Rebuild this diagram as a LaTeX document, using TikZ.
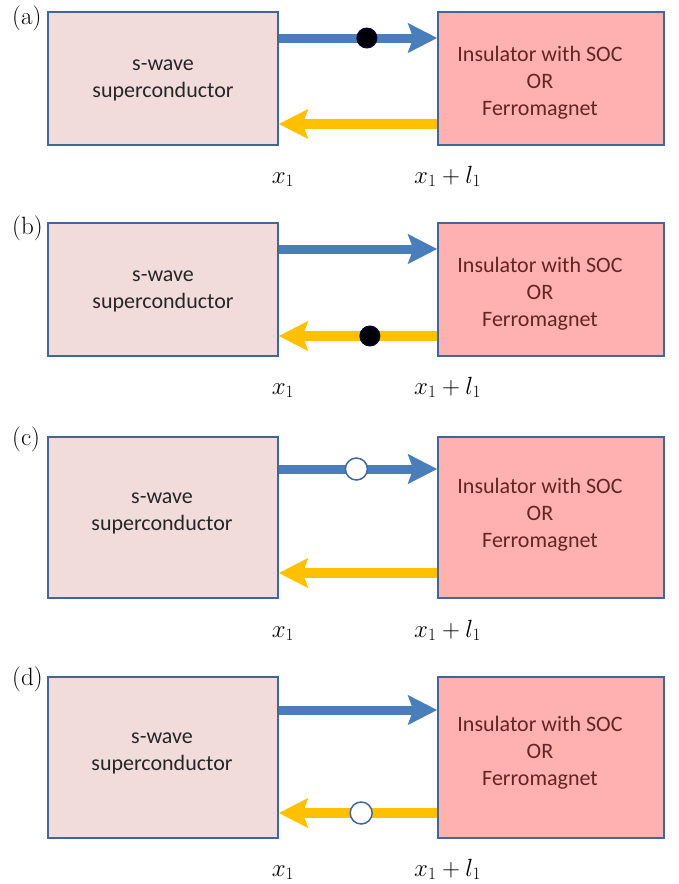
\documentclass[tikz,border=0pt]{standalone}
\usepackage{fontspec}
\newfontfamily\cali{Carlito}
\usetikzlibrary{arrows.meta}
\definecolor{lfill}{HTML}{F2DCDB}
\definecolor{rfill}{HTML}{FFB0B0}
\definecolor{bord}{HTML}{41679A}
\definecolor{barr}{HTML}{4A7EBB}
\definecolor{yarr}{HTML}{FFC000}
\definecolor{rtxt}{HTML}{632523}
\begin{document}
\begin{tikzpicture}[x=1pt,y=-1pt,
  lbox/.style={draw=bord,line width=1.5pt,fill=lfill,minimum width=230pt,inner sep=0pt},
  rbox/.style={draw=bord,line width=1.5pt,fill=rfill,minimum width=226pt,inner sep=0pt},
  ltext/.style={align=center,font=\cali\fontsize{22}{27}\selectfont,text=black!85},
  rtext/.style={align=center,font=\cali\fontsize{22}{27}\selectfont,text=rtxt},
  barrow/.style={draw=barr,line width=9pt,-{Stealth[length=29pt,width=29pt,inset=5pt]}},
  yarrow/.style={draw=yarr,line width=9.5pt,-{Stealth[length=29pt,width=29pt,inset=5pt]}},
  fdot/.style={circle,fill=black,draw=black!70!blue,line width=1pt,minimum size=20pt,inner sep=0pt},
  odot/.style={circle,fill=white,draw=bord,line width=1.5pt,minimum size=22pt,inner sep=0pt},
  plabel/.style={anchor=base west,inner sep=0pt,font=\fontsize{25}{30}\selectfont},
  mlabel/.style={inner sep=0pt,font=\fontsize{25}{30}\selectfont}
]
\useasboundingbox (0,0) rectangle (678,884);

% ---------- (a)
\node[lbox,minimum height=133pt] (L1) at (163,78.5) {};
\node[rbox,minimum height=133pt] (R1) at (551,78.5) {};
\node[ltext] (LT1) at (163,80) {s-wave\\superconductor};
\node[rtext] (RT1) at (540,83) {Insulator with SOC\\OR\\Ferromagnet};
\draw[barrow] ([yshift=40.5pt]L1.east) -- node[fdot,pos=0.556] (D1) {} ([yshift=40.5pt]R1.west);
\draw[yarrow] ([yshift=-45.5pt]R1.west) -- ([yshift=-45.5pt]L1.east);
\node[plabel] (PA) at (12,24) {(a)};
\node[mlabel,anchor=base] (XA) at (283,183) {$x_1$};
\node[mlabel,anchor=base west] (XLA) at (414,183) {$x_1+l_1$};

% ---------- (b)
\node[lbox,minimum height=133pt] (L2) at (163,289.5) {};
\node[rbox,minimum height=133pt] (R2) at (551,289.5) {};
\node[ltext] (LT2) at (163,291) {s-wave\\superconductor};
\node[rtext] (RT2) at (540,294) {Insulator with SOC\\OR\\Ferromagnet};
\draw[barrow] ([yshift=40.5pt]L2.east) -- ([yshift=40.5pt]R2.west);
\draw[yarrow] ([yshift=-46.5pt]R2.west) -- node[fdot,pos=0.425] (D2) {} ([yshift=-46.5pt]L2.east);
\node[plabel] (PB) at (12,234) {(b)};
\node[mlabel,anchor=base] (XB) at (283,394) {$x_1$};
\node[mlabel,anchor=base west] (XLB) at (414,394) {$x_1+l_1$};

% ---------- (c)
\node[lbox,minimum height=161pt] (L3) at (163,517.5) {};
\node[rbox,minimum height=161pt] (R3) at (551,517.5) {};
\node[ltext] (LT3) at (162,513) {s-wave\\superconductor};
\node[rtext] (RT3) at (540,515) {Insulator with SOC\\OR\\Ferromagnet};
\draw[barrow] ([yshift=48.5pt]L3.east) -- node[odot,pos=0.49] (D3) {} ([yshift=48.5pt]R3.west);
\draw[yarrow] ([yshift=-55.5pt]R3.west) -- ([yshift=-55.5pt]L3.east);
\node[plabel] (PC) at (12,445) {(c)};
\node[mlabel,anchor=base] (XC) at (283,637) {$x_1$};
\node[mlabel,anchor=base west] (XLC) at (414,637) {$x_1+l_1$};

% ---------- (d)
\node[lbox,minimum height=161pt] (L4) at (163,757.5) {};
\node[rbox,minimum height=161pt] (R4) at (551,757.5) {};
\node[ltext] (LT4) at (162,753) {s-wave\\superconductor};
\node[rtext] (RT4) at (540,753) {Insulator with SOC\\OR\\Ferromagnet};
\draw[barrow] ([yshift=47.5pt]L4.east) -- ([yshift=47.5pt]R4.west);
\draw[yarrow] ([yshift=-55.5pt]R4.west) -- node[odot,pos=0.48] (D4) {} ([yshift=-55.5pt]L4.east);
\node[plabel] (PD) at (12,685) {(d)};
\node[mlabel,anchor=base] (XD) at (283,876) {$x_1$};
\node[mlabel,anchor=base west] (XLD) at (414,876) {$x_1+l_1$};
\end{tikzpicture}
\end{document}
